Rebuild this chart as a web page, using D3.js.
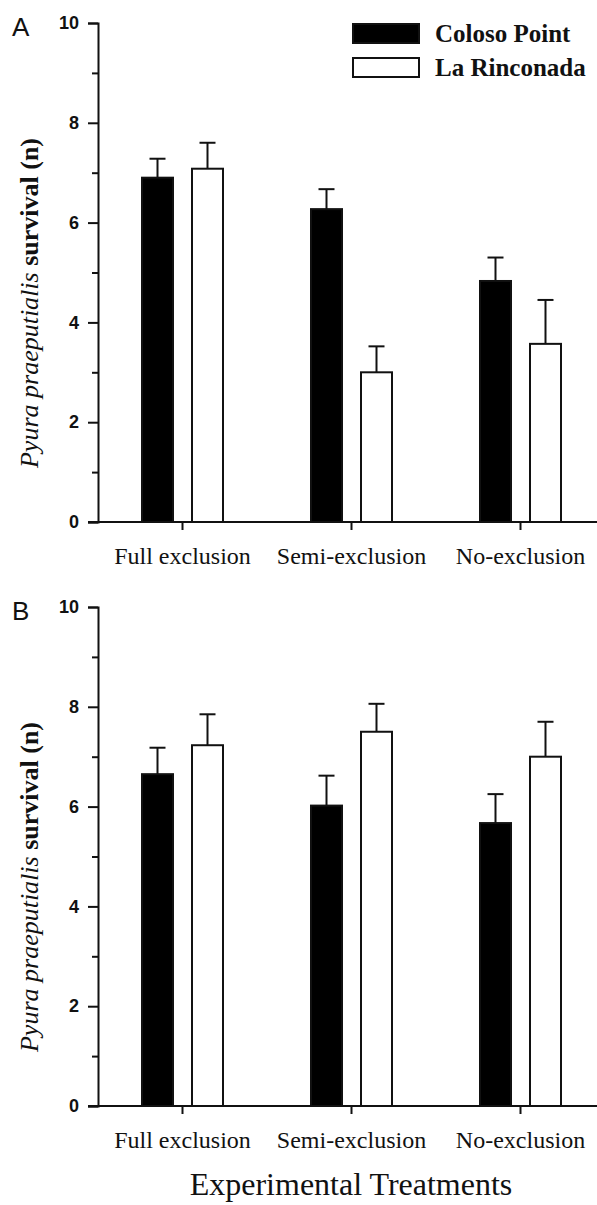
<!DOCTYPE html>
<meta charset="utf-8">
<style>
    body {
        margin: 0;
        background: #fff;
    }
    svg {
        display: block;
    }
    .axis path,
    .axis line {
        fill: none;
        stroke: #111;
        stroke-width: 2px;
    }
    .axis text {
        font-family: "Liberation Sans", Arial, sans-serif;
        font-weight: bold;
        font-size: 18px;
        fill: #111;
    }
    .cat-label {
        font-family: "Liberation Serif", serif;
        font-size: 24px;
        fill: #111;
    }
</style>
<body>
<script src="https://cdn.jsdelivr.net/npm/d3@7"></script>
<script>
    // chart data
    const categories = ['Full exclusion', 'Semi-exclusion', 'No-exclusion'];
    const series = ['Coloso Point', 'La Rinconada'];
    const yTicks = [0, 2, 4, 6, 8, 10];

    // panel A
    const meanA_coloso = [6.9, 6.27, 4.83];
    const errA_coloso = [0.38, 0.40, 0.47];
    const meanA_rinconada = [7.08, 3.0, 3.57];
    const errA_rinconada = [0.52, 0.52, 0.88];

    // panel B
    const meanB_coloso = [6.65, 6.02, 5.67];
    const errB_coloso = [0.53, 0.60, 0.58];
    const meanB_rinconada = [7.23, 7.5, 7.0];
    const errB_rinconada = [0.62, 0.56, 0.70];

    const width = 597, height = 1205;

    const svg = d3.select('body')
        .append('svg')
        .attr('width', width)
        .attr('height', height);

    // shared x scales
    const x0 = d3.scaleBand().domain(categories).range([98, 605]);
    const x1 = d3.scaleBand().domain(series).range([-50, 50])
        .paddingInner(0.38).paddingOuter(0.19);
    const fill = d3.scaleOrdinal().domain(series).range(['#000', '#fff']);

    function drawPanel(top, letter, coloso, colosoErr, rinc, rincErr) {
        const y = d3.scaleLinear().domain([0, 10]).range([top + 499, top]);
        const g = svg.append('g');
        const cx = d => x0(d.cat) + x0.bandwidth() / 2 + x1(d.s) + x1.bandwidth() / 2;

        const rows = [];
        categories.forEach((c, i) => {
            rows.push({cat: c, s: series[0], v: coloso[i], e: colosoErr[i]});
            rows.push({cat: c, s: series[1], v: rinc[i], e: rincErr[i]});
        });

        // error bars (upper only)
        const eb = g.selectAll('.err').data(rows).enter().append('g').attr('class', 'err');
        eb.append('line')
            .attr('x1', cx)
            .attr('x2', cx)
            .attr('y1', d => y(d.v))
            .attr('y2', d => y(d.v + d.e))
            .attr('stroke', '#111').attr('stroke-width', 2);
        eb.append('line')
            .attr('x1', d => cx(d) - 8)
            .attr('x2', d => cx(d) + 8)
            .attr('y1', d => y(d.v + d.e))
            .attr('y2', d => y(d.v + d.e))
            .attr('stroke', '#111').attr('stroke-width', 2);

        // bars
        g.selectAll('.bar').data(rows).enter().append('rect')
            .attr('class', 'bar')
            .attr('x', d => x0(d.cat) + x0.bandwidth() / 2 + x1(d.s))
            .attr('width', x1.bandwidth())
            .attr('y', d => y(d.v))
            .attr('height', d => y(0) - y(d.v))
            .style('fill', d => fill(d.s))
            .style('stroke', '#111')
            .style('stroke-width', 2);

        // y axis, major ticks labelled, minor ticks on odd values
        g.append('g')
            .attr('class', 'axis')
            .attr('transform', 'translate(98,0)')
            .call(d3.axisLeft(y).tickValues(d3.range(1, 10, 2)).tickSize(6).tickFormat(''))
            .select('.domain').remove();
        g.append('g')
            .attr('class', 'axis')
            .attr('transform', 'translate(98,0)')
            .call(d3.axisLeft(y).tickValues(yTicks).tickSize(10).tickSizeOuter(10).tickPadding(9));

        // x axis
        const xa = g.append('g')
            .attr('class', 'axis')
            .attr('transform', 'translate(0,' + y(0) + ')')
            .call(d3.axisBottom(x0).tickSize(8).tickSizeOuter(0).tickFormat(''));
        xa.select('.domain').attr('d', 'M88,0H' + width);

        g.selectAll('.cat-label').data(categories).enter().append('text')
            .attr('class', 'cat-label')
            .attr('x', d => x0(d) + x0.bandwidth() / 2)
            .attr('y', y(0) + 42)
            .attr('text-anchor', 'middle')
            .text(d => d);

        // y title
        const yt = g.append('text')
            .attr('transform', 'translate(38,' + (top + 280) + ') rotate(-90)')
            .attr('text-anchor', 'middle')
            .style('font-family', '"Liberation Serif", serif')
            .style('font-size', '26px')
            .style('fill', '#111');
        yt.append('tspan').style('font-style', 'italic').text('Pyura praeputialis ');
        yt.append('tspan').style('font-weight', 'bold').text('survival (n)');

        // panel letter
        g.append('text')
            .attr('x', 12)
            .attr('y', top + 13)
            .style('font-family', '"Liberation Sans", Arial, sans-serif')
            .style('font-size', '26px')
            .style('fill', '#111')
            .text(letter);
    }

    drawPanel(23, 'A', meanA_coloso, errA_coloso, meanA_rinconada, errA_rinconada);
    drawPanel(607, 'B', meanB_coloso, errB_coloso, meanB_rinconada, errB_rinconada);

    // legend
    const legend = svg.append('g').selectAll('.legend')
        .data(series)
        .enter().append('g')
        .attr('class', 'legend')
        .attr('transform', (d, i) => 'translate(353,' + (24 + i * 34) + ')');
    legend.append('rect')
        .attr('width', 66)
        .attr('height', 19)
        .style('fill', d => fill(d))
        .style('stroke', '#111')
        .style('stroke-width', 2);
    legend.append('text')
        .attr('x', 82)
        .attr('y', 18)
        .style('font-family', '"Liberation Serif", serif')
        .style('font-weight', 'bold')
        .style('font-size', '25px')
        .style('fill', '#111')
        .text(d => d);

    // common x title
    svg.append('text')
        .attr('x', 351)
        .attr('y', 1195)
        .attr('text-anchor', 'middle')
        .style('font-family', '"Liberation Serif", serif')
        .style('font-size', '32px')
        .style('fill', '#111')
        .text('Experimental Treatments');
</script>
</body>
</html>
